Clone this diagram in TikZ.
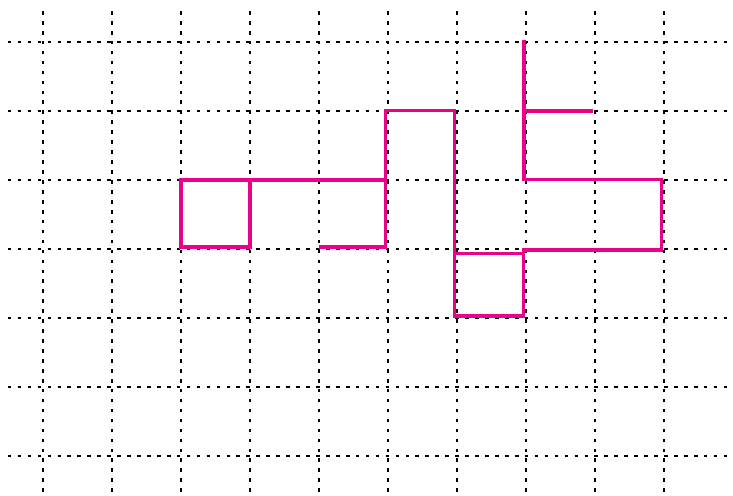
\documentclass[tikz,border=0pt]{standalone}
\usepackage{tikz}

\begin{document}
\begin{tikzpicture}
  \definecolor{walk}{RGB}{233,0,139}
  \tikzset{gridline/.style={line width=1.1pt,dash pattern=on 1.5pt off 2.6pt},
           walkline/.style={walk,line width=1.3pt,line join=miter}}
  \useasboundingbox (-0.623,-0.565) rectangle (10.0,6.609);

  % dotted grid
  \foreach \i in {0,...,9}
    \draw[gridline] (\i,-0.52) -- (\i,6.49);
  \foreach \j in {0,...,6}
    \draw[gridline] (-0.51,\j) -- (9.96,\j);

  % the walk
  \draw[walkline] (2,4) rectangle (3,3.03);
  \draw[walkline] (3,4) -- (4.96,4) -- (4.96,3.03) -- (4,3.03);
  \draw[walkline] (4.96,3.03) -- (4.96,5.01) -- (5.96,5.01) -- (5.96,2.03)
    -- (6.96,2.03) -- (6.96,2.94) -- (5.96,2.94);
  \draw[walkline] (6.96,2.94) -- (6.96,2.985) -- (8.96,2.985) -- (8.96,4.01)
    -- (6.97,4.01) -- (6.97,6.03);
  \draw[walkline] (6.97,5.0) -- (7.97,5.0);
\end{tikzpicture}
\end{document}
